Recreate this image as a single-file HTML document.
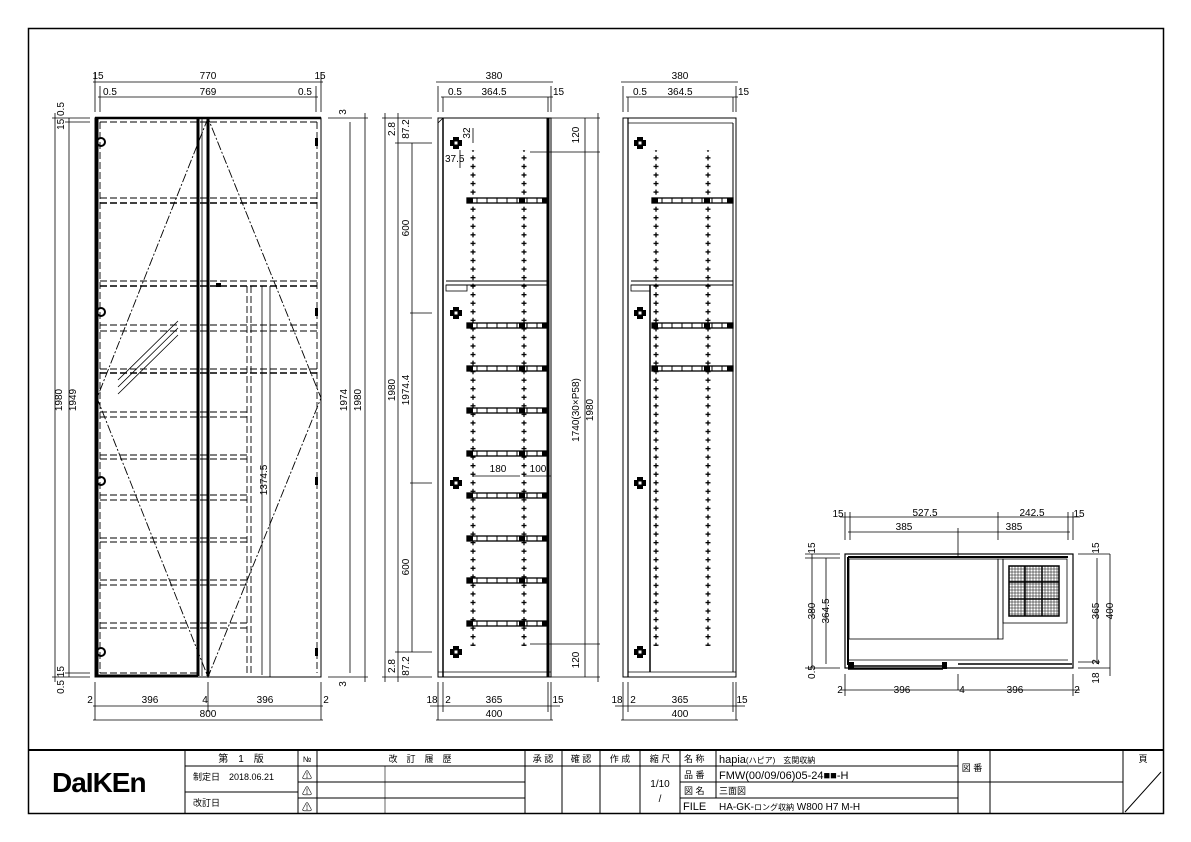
<!DOCTYPE html>
<html><head><meta charset="utf-8"><style>
html,body{margin:0;padding:0;background:#fff;}
svg{display:block;}
text{font-family:"Liberation Sans","Noto Sans CJK JP",sans-serif;font-size:10px;fill:#000;}
.t{text-anchor:middle;}
</style></head><body>
<svg width="1191" height="842" viewBox="0 0 1191 842" xmlns="http://www.w3.org/2000/svg">
<defs>
<pattern id="pl" x="0" y="0" width="12" height="8.55" patternUnits="userSpaceOnUse">
<path d="M6 1.5V6.5M3.5 4H8.5" stroke="#000" stroke-width="1.3"/>
</pattern>
<g id="hinge"><path d="M-3 -6h6v3h3v6h-3v3h-6v-3h-3v-6h3z" fill="#000"/><rect x="-1.5" y="-1.5" width="3" height="3" fill="#fff"/></g>
<g id="shelf"><rect x="0" y="0" width="81" height="5" fill="#fff" stroke="#000" stroke-width="1.3"/><path d="M10 0v5M20 0v5M30 0v5M40 0v5M50 0v5M60 0v5M70 0v5" stroke="#000"/><rect x="0" y="0" width="6" height="5" fill="#000"/><rect x="52" y="0" width="6" height="5" fill="#000"/><rect x="75" y="0" width="6" height="5" fill="#000"/></g>
</defs>
<rect width="1191" height="842" fill="#fff"/>
<rect x="28.5" y="28.5" width="1135" height="785" fill="none" stroke="#000" stroke-width="1.5"/>

<!-- ===== FRONT VIEW ===== -->
<g stroke="#000" fill="none">
<rect x="95" y="118" width="226" height="559" stroke-width="1"/>
<line x1="95" y1="118" x2="321" y2="118" stroke-width="2.5"/>
<path d="M97 119V676H198" stroke-width="3"/>
<line x1="198" y1="119" x2="198" y2="676" stroke-width="3"/>
<line x1="208" y1="119" x2="208" y2="676" stroke-width="3"/>
<line x1="202" y1="119" x2="202" y2="676" stroke-width="0.8"/>
<g stroke-dasharray="7,3" stroke-width="0.9">
<line x1="100" y1="122" x2="100" y2="673"/><line x1="317" y1="122" x2="317" y2="673"/>
<line x1="100" y1="122" x2="317" y2="122"/><line x1="100" y1="673" x2="197" y2="673"/>
<line x1="100" y1="198" x2="317" y2="198"/><line x1="100" y1="203" x2="317" y2="203" stroke-width="1.5"/>
<line x1="100" y1="281" x2="317" y2="281"/><line x1="100" y1="286" x2="317" y2="286" stroke-width="1.5"/>
<line x1="100" y1="325" x2="317" y2="325"/><line x1="100" y1="331" x2="317" y2="331"/>
<line x1="100" y1="369" x2="317" y2="369"/><line x1="100" y1="373" x2="317" y2="373" stroke-width="1.5"/>
<line x1="100" y1="412" x2="247" y2="412"/><line x1="100" y1="417" x2="247" y2="417"/>
<line x1="100" y1="455" x2="247" y2="455"/><line x1="100" y1="459" x2="247" y2="459"/>
<line x1="100" y1="495" x2="247" y2="495"/><line x1="100" y1="500" x2="247" y2="500"/>
<line x1="100" y1="538" x2="247" y2="538"/><line x1="100" y1="542" x2="247" y2="542"/>
<line x1="100" y1="580" x2="247" y2="580"/><line x1="100" y1="585" x2="247" y2="585"/>
<line x1="100" y1="623" x2="247" y2="623"/><line x1="100" y1="628" x2="247" y2="628"/>
<line x1="247" y1="286" x2="247" y2="675"/><line x1="251" y1="286" x2="251" y2="675"/>
</g>
<line x1="270" y1="286" x2="270" y2="677" stroke-width="0.8"/>
<path d="M208 118L97 398L208 677L321 398Z" stroke-dasharray="9,2,2,2" stroke-width="0.9"/>
<path d="M118 387L178 328M118 394L178 335M118 380L178 321" stroke-width="0.8"/>
</g>
<g fill="#000">
<circle cx="101" cy="142" r="4" fill="none" stroke="#000" stroke-width="2"/>
<circle cx="101" cy="312" r="4" fill="none" stroke="#000" stroke-width="2"/>
<circle cx="101" cy="481" r="4" fill="none" stroke="#000" stroke-width="2"/>
<circle cx="101" cy="652" r="4" fill="none" stroke="#000" stroke-width="2"/>
<rect x="315" y="138" width="3" height="8"/><rect x="315" y="308" width="3" height="8"/>
<rect x="315" y="477" width="3" height="8"/><rect x="315" y="648" width="3" height="8"/>
<rect x="216" y="283" width="5" height="4"/>
</g>
<g stroke="#000" stroke-width="0.8" fill="none">
<path d="M95 72V112M100 86V112M316 86V112M321 72V112"/>
<path d="M93 82H323M98 97H318"/>
<path d="M52 118H90M52 677H90M65 122H90M65 673H90"/>
<path d="M55 113V682M69 118V677"/>
<path d="M328 118H368M328 677H368"/>
<path d="M350 122V673M365 113V682"/>
<path d="M95 682V720M208 682V712M321 682V720"/>
<path d="M93 706H323M93 720H323"/>
<path d="M262 286V675"/>
</g>
<text class="t" x="98" y="79">15</text><text class="t" x="208" y="79">770</text><text class="t" x="320" y="79">15</text>
<text x="103" y="95">0.5</text><text class="t" x="208" y="95">769</text><text x="298" y="95">0.5</text>
<text class="t" transform="translate(62,400) rotate(-90)">1980</text>
<text class="t" transform="translate(76,400) rotate(-90)">1949</text>
<text class="t" transform="translate(64,116) rotate(-90)">15 0.5</text>
<text class="t" transform="translate(64,680) rotate(-90)">0.5 15</text>
<text class="t" transform="translate(347,400) rotate(-90)">1974</text>
<text class="t" transform="translate(361,400) rotate(-90)">1980</text>
<text class="t" transform="translate(346,112) rotate(-90)">3</text>
<text class="t" transform="translate(346,684) rotate(-90)">3</text>
<text class="t" transform="translate(267,480) rotate(-90)">1374.5</text>
<text class="t" x="90" y="703">2</text><text class="t" x="150" y="703">396</text><text class="t" x="205" y="703">4</text><text class="t" x="265" y="703">396</text><text class="t" x="326" y="703">2</text>
<text class="t" x="208" y="717">800</text>

<!-- ===== SIDE VIEW 1 ===== -->
<g stroke="#000" fill="none">
<rect x="438" y="118" width="113" height="559" stroke-width="1"/>
<line x1="443" y1="118" x2="443" y2="677" stroke-width="1.5"/>
<line x1="548" y1="118" x2="548" y2="677" stroke-width="3"/>
<line x1="438" y1="672" x2="551" y2="672" stroke-width="0.8"/>
<path d="M446 281H548M446 285H548" stroke-width="1"/>
<rect x="446" y="285" width="21" height="6" stroke-width="0.8"/>
<path d="M438 123L443 118" stroke-width="0.8"/>
</g>
<rect x="0" y="150" width="12" height="496" fill="url(#pl)" transform="translate(467,0)"/>
<rect x="0" y="150" width="12" height="496" fill="url(#pl)" transform="translate(518,0)"/>
<use href="#shelf" x="467" y="198"/><use href="#shelf" x="467" y="323"/><use href="#shelf" x="467" y="366"/>
<use href="#shelf" x="467" y="408"/><use href="#shelf" x="467" y="451"/><use href="#shelf" x="467" y="493"/>
<use href="#shelf" x="467" y="536"/><use href="#shelf" x="467" y="578"/><use href="#shelf" x="467" y="621"/>
<use href="#hinge" x="456" y="143"/><use href="#hinge" x="456" y="313"/><use href="#hinge" x="456" y="483"/><use href="#hinge" x="456" y="652"/>
<g stroke="#000" stroke-width="0.8" fill="none">
<path d="M438 86V112M443 97V112M548 97V112M551 86V112"/>
<path d="M436 82H553M441 97H553"/>
<path d="M382 118H432M395 143H432M395 652H432M382 677H432M410 313H432M410 483H432"/>
<path d="M385 113V682M398 113V682M412 143V652"/>
<path d="M530 118H600M530 152H600M530 644H600M530 677H600"/>
<path d="M585 118V677M598 113V682"/>
<path d="M473 143V128M460 168V150"/>
<path d="M473 476H520"/><path d="M524 476H551"/>
<path d="M438 682V720M443 682V712M548 682V712M551 682V720"/>
<path d="M430 706H560M436 720H553"/>
</g>
<text class="t" x="494" y="79">380</text>
<text x="448" y="95">0.5</text><text class="t" x="494" y="95">364.5</text><text x="553" y="95">15</text>
<text class="t" transform="translate(395,129) rotate(-90)">2.8</text>
<text class="t" transform="translate(409,129) rotate(-90)">87.2</text>
<text class="t" transform="translate(409,228) rotate(-90)">600</text>
<text class="t" transform="translate(395,390) rotate(-90)">1980</text>
<text class="t" transform="translate(409,390) rotate(-90)">1974.4</text>
<text class="t" transform="translate(409,567) rotate(-90)">600</text>
<text class="t" transform="translate(395,666) rotate(-90)">2.8</text>
<text class="t" transform="translate(409,666) rotate(-90)">87.2</text>
<text class="t" transform="translate(579,135) rotate(-90)">120</text>
<text class="t" transform="translate(579,410) rotate(-90)">1740(30×P58)</text>
<text class="t" transform="translate(593,410) rotate(-90)">1980</text>
<text class="t" transform="translate(579,660) rotate(-90)">120</text>
<text class="t" transform="translate(470,133) rotate(-90)">32</text>
<text x="445" y="162">37.5</text>
<text class="t" x="498" y="472">180</text><text class="t" x="538" y="472">100</text>
<text class="t" x="432" y="703">18</text><text class="t" x="448" y="703">2</text><text class="t" x="494" y="703">365</text><text class="t" x="558" y="703">15</text>
<text class="t" x="494" y="717">400</text>

<!-- ===== SIDE VIEW 2 ===== -->
<g stroke="#000" fill="none">
<rect x="623" y="118" width="113" height="559" stroke-width="1"/>
<line x1="628" y1="118" x2="628" y2="677" stroke-width="1.2"/>
<line x1="733" y1="123" x2="733" y2="672" stroke-width="1"/>
<line x1="628" y1="123" x2="733" y2="123" stroke-width="0.8"/>
<line x1="628" y1="672" x2="736" y2="672" stroke-width="0.8"/>
<line x1="650" y1="285" x2="650" y2="672" stroke-width="1.5"/>
<path d="M631 281H733M631 285H733" stroke-width="1"/>
<rect x="631" y="285" width="19" height="6" stroke-width="0.8"/>
</g>
<rect x="0" y="150" width="12" height="496" fill="url(#pl)" transform="translate(650,0)"/>
<rect x="0" y="150" width="12" height="496" fill="url(#pl)" transform="translate(702,0)"/>
<use href="#shelf" x="652" y="198"/><use href="#shelf" x="652" y="323"/><use href="#shelf" x="652" y="366"/>
<use href="#hinge" x="640" y="143"/><use href="#hinge" x="640" y="313"/><use href="#hinge" x="640" y="483"/><use href="#hinge" x="640" y="652"/>
<g stroke="#000" stroke-width="0.8" fill="none">
<path d="M623 86V112M628 97V112M733 97V112M736 86V112"/>
<path d="M621 82H738M626 97H738"/>
<path d="M623 682V720M628 682V712M733 682V712M736 682V720"/>
<path d="M615 706H745M621 720H738"/>
</g>
<text class="t" x="680" y="79">380</text>
<text x="633" y="95">0.5</text><text class="t" x="680" y="95">364.5</text><text x="738" y="95">15</text>
<text class="t" x="617" y="703">18</text><text class="t" x="633" y="703">2</text><text class="t" x="680" y="703">365</text><text class="t" x="742" y="703">15</text>
<text class="t" x="680" y="717">400</text>

<!-- ===== PLAN VIEW ===== -->
<g stroke="#000" fill="none">
<rect x="845" y="554" width="228" height="114" stroke-width="1.2"/>
<path d="M848 557H1068" stroke-width="2"/>
<path d="M848 557V665" stroke-width="2"/>
<rect x="849" y="559" width="149" height="80" stroke-width="0.8"/>
<rect x="998" y="559" width="5" height="80" stroke-width="0.8"/>
<rect x="1003" y="559" width="64" height="64" stroke-width="0.8"/>
<path d="M848 660H1068" stroke-width="0.8"/>
<path d="M848 666H943M958 664H1072" stroke-width="1.5"/>
<path d="M848 669H943" stroke-width="1.5"/>
</g>
<g stroke="#000" stroke-width="0.5">
<rect x="1009" y="566" width="50" height="50" fill="none" stroke-width="1.5"/>
<path d="M1012 566V616M1015 566V616M1018 566V616M1021 566V616M1024 566V616M1027 566V616M1030 566V616M1033 566V616M1036 566V616M1039 566V616M1042 566V616M1045 566V616M1048 566V616M1051 566V616M1054 566V616M1057 566V616"/>
<path d="M1009 569H1059M1009 572H1059M1009 575H1059M1009 578H1059M1009 581H1059M1009 584H1059M1009 587H1059M1009 590H1059M1009 593H1059M1009 596H1059M1009 599H1059M1009 602H1059M1009 605H1059M1009 608H1059M1009 611H1059M1009 614H1059"/>
<path d="M1025 566V616M1042 566V616M1009 582H1059M1009 599H1059" stroke-width="1.5"/>
</g>
<rect x="848" y="662" width="6" height="7" fill="#000"/><rect x="942" y="662" width="5" height="7" fill="#000"/>
<g stroke="#000" stroke-width="0.8" fill="none">
<path d="M845 512V540M850 512V540M1068 512V540M1073 512V540M998 512V540M958 528V558"/>
<path d="M840 517H1080M848 532H1070"/>
<path d="M805 554H840M805 558H840M805 668H840M1078 554H1110M1078 668H1110M1078 662H1100"/>
<path d="M812 554V668M826 558V664M1097 558V664M1110 554V676"/>
<path d="M845 674V696M958 674V690M1073 674V696M840 690H1080"/>
</g>
<text class="t" x="838" y="517">15</text><text class="t" x="925" y="516">527.5</text><text class="t" x="1032" y="516">242.5</text><text class="t" x="1079" y="517">15</text>
<text class="t" x="904" y="530">385</text><text class="t" x="1014" y="530">385</text>
<text class="t" transform="translate(815,548) rotate(-90)">15</text>
<text class="t" transform="translate(815,611) rotate(-90)">380</text>
<text class="t" transform="translate(829,611) rotate(-90)">364.5</text>
<text class="t" transform="translate(815,672) rotate(-90)">0.5</text>
<text class="t" transform="translate(1099,548) rotate(-90)">15</text>
<text class="t" transform="translate(1099,611) rotate(-90)">365</text>
<text class="t" transform="translate(1113,611) rotate(-90)">400</text>
<text class="t" transform="translate(1099,662) rotate(-90)">2</text>
<text class="t" transform="translate(1099,678) rotate(-90)">18</text>
<text class="t" x="840" y="693">2</text><text class="t" x="902" y="693">396</text><text class="t" x="962" y="693">4</text><text class="t" x="1015" y="693">396</text><text class="t" x="1077" y="693">2</text>

<!-- ===== TITLE BLOCK ===== -->
<g stroke="#000" fill="none">
<line x1="28" y1="750" x2="1163" y2="750" stroke-width="2"/>
<path d="M185 750V814M298 750V814M317 750V814M525 750V814M562 750V814M600 750V814M640 750V814M680 750V814M716 750V798M958 750V814M990 750V814M1123 750V814" stroke-width="1"/>
<path d="M185 766H680M680 766H958" stroke-width="1"/>
<path d="M185 792H298" stroke-width="1"/>
<path d="M298 782H525M298 798H525M680 782H958M680 798H958M958 782H1123" stroke-width="1"/>
<path d="M385 766V814" stroke-width="0.6"/>
<path d="M1125 812L1161 772" stroke-width="1"/>
</g>
<text x="52" y="792" style="font-size:28px;font-weight:bold;letter-spacing:-1px;">DaIKEn</text>
<text class="t" x="241" y="762" style="font-size:10px">第　1　版</text>
<text x="193" y="780" style="font-size:9px">制定日　2018.06.21</text>
<text x="193" y="806" style="font-size:9px">改訂日</text>
<text class="t" x="307" y="762" style="font-size:8px">№</text>
<text class="t" x="307" y="779" style="font-size:10px">⚠</text>
<text class="t" x="307" y="795" style="font-size:10px">⚠</text>
<text class="t" x="307" y="811" style="font-size:10px">⚠</text>
<text class="t" x="420" y="762" style="font-size:9px">改　訂　履　歴</text>
<text class="t" x="543" y="762" style="font-size:9px">承 認</text>
<text class="t" x="581" y="762" style="font-size:9px">確 認</text>
<text class="t" x="620" y="762" style="font-size:9px">作 成</text>
<text class="t" x="660" y="762" style="font-size:9px">縮 尺</text>
<text class="t" x="660" y="787" style="font-size:10px">1/10</text>
<text class="t" x="660" y="802" style="font-size:10px">/</text>
<text x="684" y="762" style="font-size:9px">名 称</text>
<text x="684" y="778" style="font-size:9px">品 番</text>
<text x="684" y="794" style="font-size:9px">図 名</text>
<text x="683" y="810" style="font-size:11px">FILE</text>
<text x="719" y="763" style="font-size:11px">hapia<tspan style="font-size:8px">(ハピア)　玄関収納</tspan></text>
<text x="719" y="779" style="font-size:11px">FMW(00/09/06)05-24■■-H</text>
<text x="719" y="794" style="font-size:9px">三面図</text>
<text x="719" y="810" style="font-size:10px">HA-GK-<tspan style="font-size:8px">ロング収納</tspan> W800 H7 M-H</text>
<text class="t" x="972" y="771" style="font-size:9px">図 番</text>
<text class="t" x="1143" y="762" style="font-size:9px">頁</text>
</svg>
</body></html>
